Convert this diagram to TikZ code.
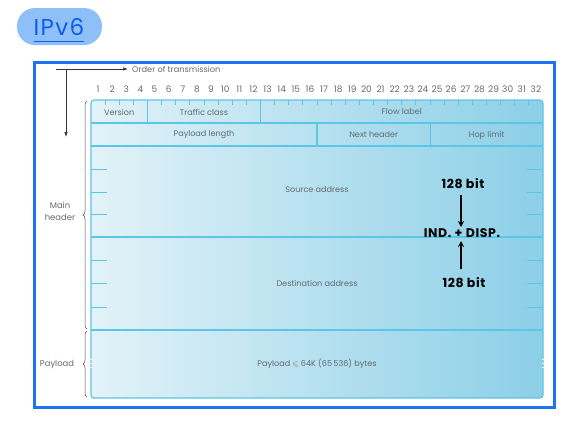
\documentclass[tikz,border=0pt]{standalone}
\usepackage{fontspec}
\usepackage{amssymb}
\setmainfont{Poppins}
\usetikzlibrary{decorations.pathreplacing,arrows.meta}

\definecolor{framebl}{HTML}{1E74F0}
\definecolor{pillbl}{HTML}{8EC0F7}
\definecolor{titlebl}{HTML}{0F5CE8}
\definecolor{cellline}{HTML}{5CC6E6}
\definecolor{fillL}{HTML}{E2F2F8}
\definecolor{fillR}{HTML}{8CCFE7}
\definecolor{labelgray}{HTML}{636A70}

\tikzset{
  lbl/.style={font=\fontsize{8.1}{9}\selectfont, text=labelgray, inner sep=0pt},
  bitnum/.style={font=\fontsize{9}{9}\selectfont, text=labelgray, inner sep=0pt},
  cellrule/.style={draw=cellline, line width=1.1pt},
  tickmark/.style={draw=cellline, line width=0.9pt},
  hand/.style={font=\fontsize{12.5}{13}\selectfont\bfseries\addfontfeature{LetterSpace=5},
    text=black, inner sep=0pt},
  handarrow/.style={draw=black, line width=1.3pt, -{Stealth[length=6pt,width=6pt]}},
  thinarrow/.style={draw=black!80, line width=0.6pt, -{Latex[length=5pt,width=3.5pt]}},
  bracestyle/.style={draw=black!70, line width=0.5pt, decorate,
    decoration={brace, amplitude=4pt}},
}

\begin{document}
\begin{tikzpicture}[x=1pt,y=-1pt]
\useasboundingbox (0,0) rectangle (578,429);

% title badge
\node[fill=pillbl, rounded corners=18pt, minimum width=85pt, minimum height=37pt,
      inner sep=0pt] (badge) at (59.5,26.5) {};
\node[font=\fontsize{23}{24}\selectfont\addfontfeature{LetterSpace=6}, text=titlebl, inner sep=0pt]
  (title) at (59,27) {IPv6};
\draw[titlebl, line width=1.6pt] (34,41.5) -- (84,41.5);

% outer frame
\draw[framebl, line width=2.6pt] (34.5,62.5) rectangle (554.5,407.5);

% order of transmission
\coordinate (otA) at (56,69);
\coordinate (otB) at (128,69);
\coordinate (otC) at (66,69);
\coordinate (otD) at (66,137);
\draw[thinarrow] (otA) -- (otB);
\draw[thinarrow] (otC) -- (otD);
\node[lbl, anchor=west, font=\fontsize{8.2}{9}\selectfont] (otlabel) at (132,69.5) {Order of transmission};

% bit numbers
\foreach \i in {1,...,32}{
  \node[bitnum] (bit\i) at ({91+(\i-0.5)*14.125},89) {\i};
}

% header body with gradient
\shade[left color=fillL, right color=fillR, rounded corners=3pt]
  (91,100) rectangle (543,398);
\draw[cellrule, rounded corners=3pt] (91,100) rectangle (543,398);

% row separators
\foreach \yy in {123,146,237,330}{
  \draw[cellrule] (91,\yy) -- (543,\yy);
}
% field boundaries
\draw[cellrule] (147.5,100) -- (147.5,123);
\draw[cellrule] (260.5,100) -- (260.5,123);
\draw[cellrule] (317,123) -- (317,146);
\draw[cellrule] (430.5,123) -- (430.5,146);

% bit ticks along the top
\foreach \i in {1,2,3,5,6,7,8,9,10,11,13,14,15,16,17,18,19,20,21,22,23,24,25,26,27,28,29,30,31}{
  \draw[tickmark] ({91+\i*14.125},100) -- ({91+\i*14.125},104.5);
}

% 32-bit word marks inside the addresses
\foreach \yy in {169,192,214,260,283,307}{
  \draw[tickmark] (91,\yy) -- (107,\yy);
  \draw[tickmark] (527,\yy) -- (543,\yy);
}

% break marks on the payload edges
\foreach \xx in {91,543}{
  \foreach \yy in {359.5,363.5,367.5}{
    \draw[white, line width=1.3pt] (\xx,\yy-0.8) -- (\xx,\yy+0.8);
  }
}

% field labels
\node[lbl] (fver)  at (119.25,112) {Version};
\node[lbl] (ftc)   at (204,112) {Traffic class};
\node[lbl] (ffl)   at (401.75,112) {Flow label};
\node[lbl] (fpl)   at (204,135) {Payload length};
\node[lbl] (fnh)   at (373.75,135) {Next header};
\node[lbl] (fhl)   at (486.75,135) {Hop limit};
\node[lbl] (fsrc)  at (317,190) {Source address};
\node[lbl] (fdst)  at (317,283) {Destination address};
\node[lbl] (fpay)  at (317,364) {Payload \raisebox{0.3pt}{$\leqslant$} 64K (65\,536) bytes};

% braces
\coordinate (bm1) at (87,329);
\coordinate (bm2) at (87,101);
\coordinate (bp1) at (87,397);
\coordinate (bp2) at (87,331);
\draw[bracestyle] (bm1) -- (bm2);
\draw[bracestyle] (bp1) -- (bp2);
\node[lbl, align=center, font=\fontsize{8.4}{11.5}\selectfont] (mainhdr) at (60,211.5) {Main\\header};
\node[lbl, font=\fontsize{8.4}{9}\selectfont] (paylbl) at (57,364.5) {Payload};

% handwritten annotation
\node[hand] (top128) at (463,184) {128 bit};
\node[hand] (inddisp) at (462,233) {IND. + DISP.};
\node[hand] (bot128) at (464,283) {128 bit};
\draw[handarrow] (461,195) -- (461,227);
\draw[handarrow] (461,269) -- (461,241);
\end{tikzpicture}
\end{document}
